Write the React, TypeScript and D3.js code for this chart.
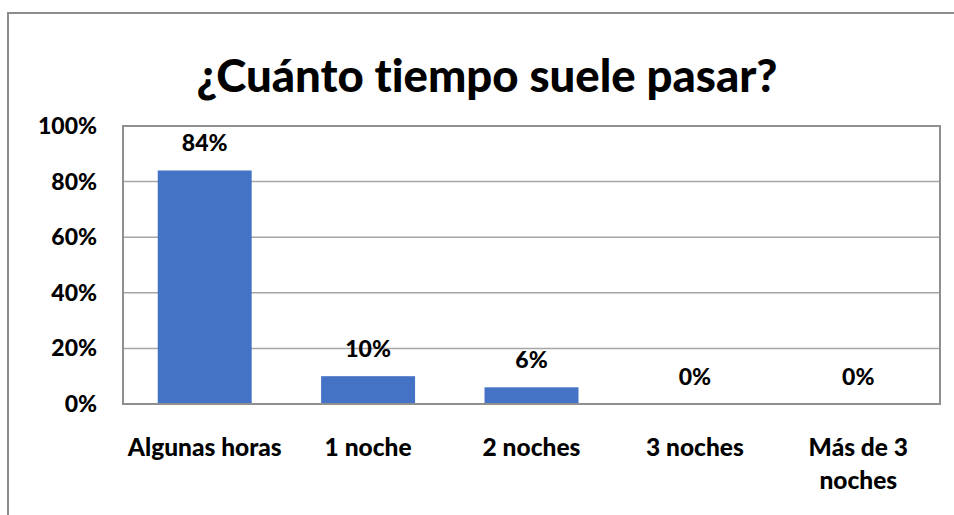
import React, { useEffect, useRef } from "react";
import * as d3 from "d3";

const title = "¿Cuánto tiempo suele pasar?";
const categories = ["Algunas horas", "1 noche", "2 noches", "3 noches", "Más de 3\nnoches"];
const values = [84, 10, 6, 0, 0];
const yTicks = [0, 20, 40, 60, 80, 100];

const FONT = "Lato, 'Open Sans', sans-serif";

export default function App() {
  const ref = useRef<SVGSVGElement>(null);

  useEffect(() => {
    const svg = d3.select(ref.current);
    svg.selectAll("*").remove();

    const width = 954;
    const height = 515;
    const left = 123, right = 940, top = 126, bottom = 404;

    // outer chart frame (runs off the right and bottom of the picture)
    svg.append("rect")
      .attr("x", 8).attr("y", 13)
      .attr("width", width + 20).attr("height", height + 20)
      .attr("fill", "white")
      .attr("stroke", "#8c8c8c")
      .attr("stroke-width", 2);

    svg.append("text")
      .attr("x", 487).attr("y", 92)
      .attr("text-anchor", "middle")
      .attr("font-family", FONT)
      .attr("font-weight", 900)
      .attr("font-size", 45.5)
      .style("font-variant-ligatures", "none")
      .attr("fill", "#000")
      .text(title);

    const x = d3.scaleBand<number>()
      .domain(categories.map((_, i) => i))
      .range([left, right])
      .paddingInner(0.425)
      .paddingOuter(0.2125);

    const y = d3.scaleLinear().domain([0, 100]).range([bottom, top]);

    const g = svg.append("g")
      .style("font-variant-ligatures", "none");

    // gridlines
    g.selectAll(".grid")
      .data(yTicks.filter(t => t > 0 && t < 100))
      .join("line")
      .attr("x1", left).attr("x2", right)
      .attr("y1", d => y(d)).attr("y2", d => y(d))
      .attr("stroke", "#a6a6a6")
      .attr("stroke-width", 1.5);

    // bars
    g.selectAll(".bar")
      .data(values)
      .join("rect")
      .attr("x", (_, i) => x(i)!)
      .attr("y", d => y(d))
      .attr("width", x.bandwidth())
      .attr("height", d => bottom - y(d))
      .attr("fill", "#4472c4");

    // plot area frame
    g.append("rect")
      .attr("x", left).attr("y", top)
      .attr("width", right - left).attr("height", bottom - top)
      .attr("fill", "none")
      .attr("stroke", "#8f8f8f")
      .attr("stroke-width", 2);

    // data labels
    g.selectAll(".lbl")
      .data(values)
      .join("text")
      .attr("x", (_, i) => x(i)! + x.bandwidth() / 2)
      .attr("y", d => y(d) - 19)
      .attr("text-anchor", "middle")
      .attr("font-family", FONT)
      .attr("font-weight", 900)
      .attr("font-size", 23)
      .text(d => `${d}%`);

    // y tick labels
    g.selectAll(".ytick")
      .data(yTicks)
      .join("text")
      .attr("x", 97)
      .attr("y", d => y(d) + 8)
      .attr("text-anchor", "end")
      .attr("font-family", FONT)
      .attr("font-weight", 900)
      .attr("font-size", 23)
      .text(d => `${d}%`);

    // category labels
    const cat = g.selectAll(".cat")
      .data(categories)
      .join("text")
      .attr("text-anchor", "middle")
      .attr("font-family", FONT)
      .attr("font-weight", 900)
      .attr("font-size", 24.5);

    cat.each(function (d, i) {
      const t = d3.select(this);
      d.split("\n").forEach((line, j) => {
        t.append("tspan")
          .attr("x", x(i)! + x.bandwidth() / 2)
          .attr("y", 456 + j * 33)
          .text(line);
      });
    });
  }, []);

  return (
    <svg
      ref={ref}
      width={954}
      height={515}
      style={{ position: "fixed", left: 0, top: 0, background: "white" }}
    />
  );
}
